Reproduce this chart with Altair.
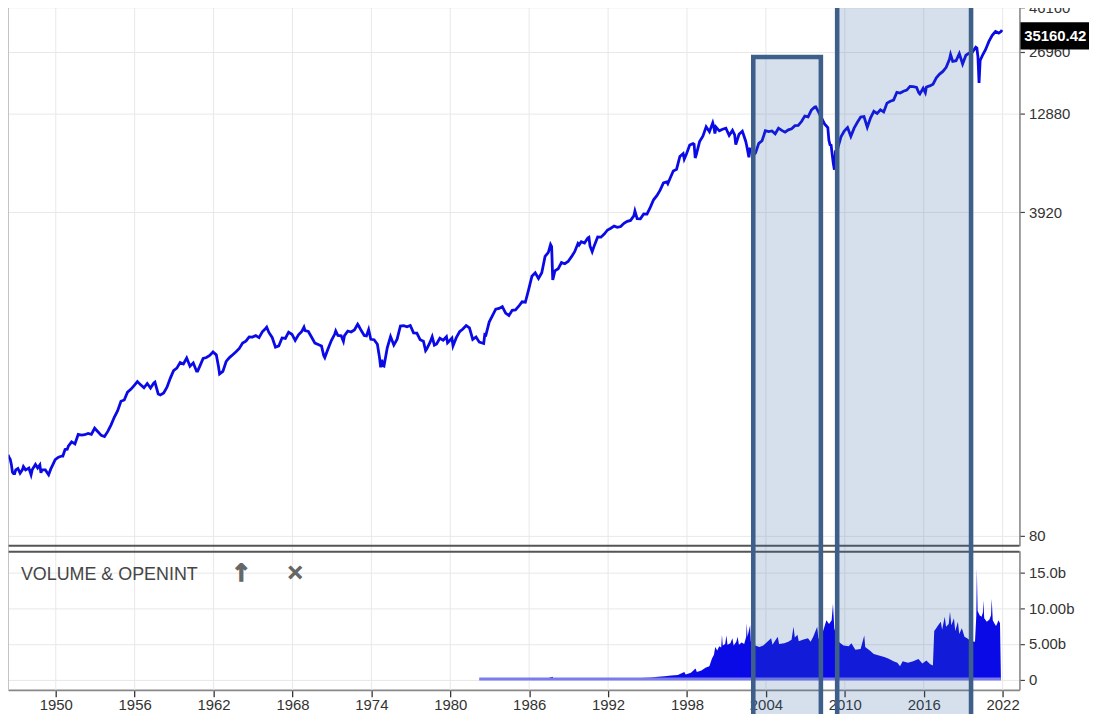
import altair as alt
import pandas as pd

# ---------------- data ----------------
price_dates = [
    "1946-05", "1946-06", "1946-07", "1946-08", "1946-09", "1946-10", "1946-11", "1946-12",
    "1947-02", "1947-04", "1947-06", "1947-07", "1947-09", "1947-12",
    "1948-02", "1948-03", "1948-06", "1948-08", "1948-10", "1948-11", "1948-12",
    "1949-03", "1949-06", "1949-08", "1949-10", "1949-12",
    "1950-03", "1950-06", "1950-07", "1950-09", "1950-11", "1950-12",
    "1951-03", "1951-06", "1951-09", "1951-12",
    "1952-03", "1952-06", "1952-09", "1952-12",
    "1953-03", "1953-06", "1953-09", "1953-12",
    "1954-03", "1954-06", "1954-09", "1954-12",
    "1955-03", "1955-06", "1955-09", "1955-12",
    "1956-03", "1956-06", "1956-09", "1956-12",
    "1957-03", "1957-06", "1957-07", "1957-10", "1957-12",
    "1958-03", "1958-06", "1958-09", "1958-12",
    "1959-03", "1959-06", "1959-09", "1959-12",
    "1960-03", "1960-06", "1960-09", "1960-10", "1960-12",
    "1961-03", "1961-06", "1961-09", "1961-12",
    "1962-03", "1962-05", "1962-06", "1962-09", "1962-12",
    "1963-03", "1963-06", "1963-09", "1963-12",
    "1964-03", "1964-06", "1964-09", "1964-12",
    "1965-03", "1965-06", "1965-09", "1965-12",
    "1966-01", "1966-03", "1966-06", "1966-09", "1966-12",
    "1967-03", "1967-06", "1967-09", "1967-12",
    "1968-03", "1968-06", "1968-09", "1968-11", "1968-12",
    "1969-03", "1969-06", "1969-09", "1969-12",
    "1970-03", "1970-05", "1970-06", "1970-09", "1970-12",
    "1971-03", "1971-04", "1971-06", "1971-09", "1971-11", "1971-12",
    "1972-03", "1972-06", "1972-09", "1972-12",
    "1973-01", "1973-03", "1973-06", "1973-08", "1973-10", "1973-12",
    "1974-03", "1974-06", "1974-08", "1974-09", "1974-10", "1974-11", "1974-12",
    "1975-03", "1975-06", "1975-09", "1975-12",
    "1976-03", "1976-06", "1976-09", "1976-12",
    "1977-03", "1977-06", "1977-09", "1977-12",
    "1978-02", "1978-03", "1978-06", "1978-08", "1978-10", "1978-12",
    "1979-03", "1979-06", "1979-09", "1979-10", "1979-12",
    "1980-02", "1980-03", "1980-06", "1980-09", "1980-12",
    "1981-03", "1981-06", "1981-09", "1981-12",
    "1982-03", "1982-07", "1982-08", "1982-09", "1982-12",
    "1983-03", "1983-06", "1983-09", "1983-12",
    "1984-03", "1984-06", "1984-09", "1984-12",
    "1985-03", "1985-06", "1985-09", "1985-12",
    "1986-03", "1986-06", "1986-09", "1986-12",
    "1987-03", "1987-06", "1987-08", "1987-09", "1987-10", "1987-11", "1987-12",
    "1988-03", "1988-06", "1988-09", "1988-12",
    "1989-03", "1989-06", "1989-09", "1989-10", "1989-12",
    "1990-03", "1990-06", "1990-07", "1990-08", "1990-10", "1990-12",
    "1991-03", "1991-06", "1991-09", "1991-12",
    "1992-03", "1992-06", "1992-09", "1992-12",
    "1993-03", "1993-06", "1993-09", "1993-12",
    "1994-01", "1994-03", "1994-06", "1994-09", "1994-12",
    "1995-03", "1995-06", "1995-09", "1995-12",
    "1996-03", "1996-06", "1996-07", "1996-09", "1996-12",
    "1997-03", "1997-06", "1997-09", "1997-10", "1997-12",
    "1998-03", "1998-06", "1998-07", "1998-08", "1998-09", "1998-12",
    "1999-03", "1999-06", "1999-09", "1999-12",
    "2000-01", "2000-02", "2000-03", "2000-06", "2000-09", "2000-12",
    "2001-03", "2001-06", "2001-08", "2001-09", "2001-12",
    "2002-03", "2002-06", "2002-07", "2002-09", "2002-10", "2002-12",
    "2003-02", "2003-03", "2003-06", "2003-09", "2003-12",
    "2004-03", "2004-06", "2004-09", "2004-12",
    "2005-03", "2005-06", "2005-09", "2005-12",
    "2006-03", "2006-06", "2006-09", "2006-12",
    "2007-03", "2007-06", "2007-09", "2007-10", "2007-12",
    "2008-03", "2008-06", "2008-09", "2008-10", "2008-11", "2008-12",
    "2009-02", "2009-03", "2009-04", "2009-06", "2009-09", "2009-12",
    "2010-03", "2010-06", "2010-09", "2010-12",
    "2011-03", "2011-06", "2011-09", "2011-12",
    "2012-03", "2012-06", "2012-09", "2012-12",
    "2013-03", "2013-06", "2013-09", "2013-12",
    "2014-03", "2014-06", "2014-09", "2014-12",
    "2015-03", "2015-06", "2015-08", "2015-09", "2015-12",
    "2016-02", "2016-03", "2016-06", "2016-09", "2016-12",
    "2017-03", "2017-06", "2017-09", "2017-12",
    "2018-01", "2018-03", "2018-06", "2018-09", "2018-12",
    "2019-03", "2019-06", "2019-09", "2019-12",
    "2020-01", "2020-02", "2020-03", "2020-04", "2020-06", "2020-09", "2020-12",
    "2021-03", "2021-06", "2021-09", "2021-11", "2021-12",
]
price_values = [
    212, 205, 201, 189, 172, 169, 169, 177,
    180, 170, 177, 184, 177, 181,
    167, 177, 189, 181, 188, 171, 177,
    177, 167, 179, 189, 200,
    206, 209, 209, 226, 227, 235,
    248, 242, 271, 269,
    270, 274, 271, 292,
    280, 268, 264, 281,
    304, 334, 361, 404,
    410, 451, 466, 488,
    512, 492, 475, 500,
    474, 503, 508, 441, 436,
    446, 478, 532, 584,
    602, 644, 632, 679,
    616, 641, 580, 580, 616,
    676, 684, 701, 731,
    706, 613, 561, 579, 652,
    683, 707, 733, 763,
    813, 832, 875, 874,
    889, 868, 931, 969,
    984, 924, 870, 774, 786,
    865, 860, 927, 905,
    840, 898, 936, 985, 944,
    935, 873, 813, 800,
    785, 700, 683, 760, 839,
    904, 941, 891, 887, 831, 890,
    940, 929, 953, 1020,
    999, 951, 891, 887, 957, 851,
    847, 802, 679, 608, 666, 619, 616,
    768, 879, 794, 852,
    999, 1003, 990, 1005,
    919, 916, 847, 831,
    743, 757, 819, 877, 793, 805,
    862, 842, 878, 816, 839,
    863, 786, 868, 932, 964,
    1004, 977, 850, 875,
    822, 809, 901, 896, 1047,
    1130, 1222, 1233, 1259,
    1165, 1132, 1207, 1212,
    1267, 1336, 1329, 1547,
    1819, 1893, 1768, 1896,
    2305, 2419, 2663, 2597, 1739, 1834, 1939,
    1989, 2142, 2113, 2169,
    2293, 2440, 2693, 2645, 2753,
    2707, 2881, 2905, 2614, 2442, 2634,
    2914, 2907, 3017, 3169,
    3236, 3319, 3272, 3301,
    3435, 3516, 3555, 3754,
    3978, 3636, 3625, 3843, 3834,
    4158, 4556, 4789, 5117,
    5588, 5655, 5529, 5882, 6448,
    6584, 7673, 7945, 7442, 7908,
    8800, 8952, 8883, 7539, 7843, 9181,
    9786, 10971, 10337, 11497,
    10941, 10128, 10922, 10448, 10651, 10787,
    9879, 10502, 9950, 8848, 10022,
    10404, 9243, 8736, 7592, 8397, 8342,
    7891, 7992, 8985, 9275, 10454,
    10358, 10435, 10080, 10783,
    10504, 10275, 10569, 10718,
    11109, 11150, 11679, 12463,
    12354, 13409, 13896, 13930, 13265,
    12263, 11350, 10851, 9325, 8829, 8776,
    7063, 6547, 8168, 8447, 9712, 10428,
    10857, 9774, 10788, 11578,
    12320, 12414, 10913, 12218,
    13212, 12880, 13437, 13104,
    14579, 14910, 15130, 16577,
    16458, 16827, 17043, 17823,
    17776, 17620, 16528, 16285, 17425,
    16517, 17685, 17930, 18308, 19763,
    20663, 21350, 22405, 24719,
    26149, 24103, 24271, 26458, 23327,
    25929, 26600, 26917, 28538,
    28256, 25409, 18592, 24346, 25813, 27782, 30606,
    32982, 34503, 33844, 34484, 35160.42,
]

# volume in billions, positions in decimal years
vol_years = [
    1982.20, 1982.22, 1983.0, 1984.0, 1985.0, 1986.0, 1986.6, 1987.3, 1987.78, 1987.85,
    1988.5, 1989.5, 1990.5, 1991.5, 1992.5, 1993.5, 1994.5, 1995.3, 1995.8, 1996.3,
    1996.8, 1997.3, 1997.8, 1997.9, 1998.3, 1998.65, 1998.75, 1999.1, 1999.4, 1999.7,
    1999.9, 2000.05, 2000.15, 2000.3, 2000.45, 2000.6, 2000.66, 2000.72, 2000.9, 2001.0,
    2001.08, 2001.3, 2001.45, 2001.55, 2001.75, 2001.85, 2001.95, 2002.15, 2002.35, 2002.5,
    2002.54, 2002.6, 2002.8, 2002.85, 2003.0, 2003.2, 2003.5, 2003.8, 2004.05, 2004.4,
    2004.5, 2004.9, 2005.0, 2005.4, 2005.7, 2005.95, 2006.1, 2006.2, 2006.4, 2006.5,
    2006.8, 2007.2, 2007.4, 2007.6, 2007.9, 2008.0, 2008.3, 2008.6, 2008.8, 2009.0,
    2009.1, 2009.2, 2009.45, 2009.6, 2009.9, 2010.3, 2010.5, 2010.8, 2011.2, 2011.48,
    2011.55, 2011.9, 2012.2, 2012.6, 2013.0, 2013.3, 2013.7, 2014.0, 2014.2, 2014.4,
    2014.8, 2015.2, 2015.6, 2015.9, 2016.2, 2016.5, 2016.7, 2016.8, 2016.95, 2017.1,
    2017.3, 2017.4, 2017.6, 2017.7, 2017.9, 2018.0, 2018.1, 2018.3, 2018.4, 2018.6,
    2018.7, 2018.9, 2019.1, 2019.3, 2019.6, 2019.9, 2020.0, 2020.04, 2020.1, 2020.25,
    2020.4, 2020.5, 2020.54, 2020.6, 2020.8, 2021.0, 2021.12, 2021.17, 2021.25, 2021.4,
    2021.5, 2021.6, 2021.68, 2021.8, 2021.86, 2021.87,
]
vol_values = [
    0.0, 0.04, 0.06, 0.06, 0.08, 0.10, 0.13, 0.16, 0.45, 0.18,
    0.13, 0.14, 0.15, 0.17, 0.19, 0.23, 0.27, 0.33, 0.45, 0.5,
    0.6, 0.7, 1.1, 0.75, 1.0, 1.6, 1.1, 1.3, 1.7, 1.9,
    3.0, 3.5, 4.6, 4.1, 4.7, 4.5, 6.3, 4.8, 5.0, 6.2,
    4.9, 5.1, 5.8, 4.8, 5.3, 6.0, 4.9, 5.2, 5.0, 6.0,
    7.9, 6.0, 7.6, 5.4, 5.0, 4.8, 4.6, 4.8, 5.2, 5.8,
    4.9, 6.0, 5.0, 5.1, 5.3, 5.6, 7.4, 5.9, 6.3, 5.4,
    5.6, 5.8, 5.3, 6.0, 7.4, 5.7, 6.5, 8.3, 7.8, 8.3,
    10.6, 7.2, 5.6, 5.2, 4.8, 4.7, 5.1, 4.2, 4.3, 6.2,
    4.6, 4.1, 3.6, 3.4, 3.2, 3.0, 2.6, 2.4, 1.9, 2.6,
    2.4, 2.6, 2.9, 2.3, 2.7, 2.2, 2.0, 6.8, 7.2, 7.6,
    8.1, 7.0, 8.8, 7.4, 7.8, 9.5, 7.6, 8.6, 6.8, 8.1,
    6.4, 7.2, 6.0, 5.8, 5.4, 5.3, 9.0, 15.5, 9.6, 9.0,
    8.8, 9.4, 11.1, 8.6, 8.1, 8.4, 9.0, 11.3, 8.3, 7.8,
    7.5, 7.9, 8.3, 7.9, 1.5, 0.0,
]

x_tick_years = [1950, 1956, 1962, 1968, 1974, 1980, 1986, 1992, 1998, 2004, 2010, 2016, 2022]
price_ticks = [80, 3920, 12880, 26960, 46160]
vol_ticks = [0, 5, 10, 15]
vol_tick_labels = ["0", "5.00b", "10.00b", "15.0b"]
last_price = 35160.42

# highlight boxes (years of their edges)
box_start = [2003.04, 2009.42]
box_end = [2008.18, 2019.60]
box_top_px = [47, -12]

header_label = ["VOLUME & OPENINT"]
header_icons = ["↑", "✕"]

# ---------------- layout ----------------
W, H = 1018, 684
UP_RANGE = [539, -3]
VOL_RANGE = [684, 544]
FONT = "Liberation Sans, Arial, sans-serif"
BLUE = "#0a0ae6"
GRID = "#e8e8e8"

price_df = pd.DataFrame({
    "t": [int(d[:4]) + (int(d[5:7]) - 0.5) / 12 for d in price_dates],
    "v": price_values,
})
vol_df = pd.DataFrame({"t": vol_years, "v": vol_values})
vol_base_df = pd.DataFrame({"t": [vol_years[0]], "t2": [vol_years[-1]], "v": [0.0]})
box_df = pd.DataFrame({"t": box_start, "t2": box_end, "top": box_top_px, "bottom": [H + 40] * 2})
last_df = pd.DataFrame({"v": [last_price], "label": [f"{last_price:.2f}"]})
one_df = pd.DataFrame({"label": header_label})
icon_df = pd.DataFrame({"label": header_icons, "px": [235, 289], "fs": [24, 21]})
xgrid_df = pd.DataFrame({"t": x_tick_years})

x_enc = alt.X(
    "t:Q",
    title=None,
    scale=alt.Scale(domain=[1946.37, 2023.28], nice=False, zero=False),
    axis=alt.Axis(
        values=x_tick_years, format="d", title=None, orient="bottom",
        grid=False,
        tickSize=7, tickColor="#333", tickWidth=1.3,
        domainColor="#888", domainWidth=1.6,
        labelFont=FONT, labelFontSize=15, labelColor="#333", labelPadding=1,
        labelFlush=False, labelOverlap=False,
    ),
)

xgrid = alt.Chart(xgrid_df).mark_rule(color=GRID, strokeWidth=1).encode(
    x=x_enc, y=alt.value(-10), y2=alt.value(H))

price_line = alt.Chart(price_df).mark_line(color=BLUE, strokeWidth=2.8).encode(
    x=x_enc,
    y=alt.Y(
        "v:Q",
        title=None,
        scale=alt.Scale(type="log", domain=[71, 46160], range=UP_RANGE, nice=False),
        axis=alt.Axis(
            orient="right", values=price_ticks, format="d", title=None,
            grid=True, gridColor=GRID, gridWidth=1,
            tickSize=5, tickColor="#444", tickWidth=1.2,
            domainColor="#888", domainWidth=1.6,
            labelFont=FONT, labelFontSize=15, labelColor="#333", labelPadding=4,
            labelFlush=False, labelOverlap=False,
        ),
    ),
)

label_box = alt.Chart(last_df).mark_point(
    shape="M-1,-0.39L1,-0.39L1,0.39L-1,0.39Z", size=4900, filled=True,
    color="black", opacity=1, strokeWidth=0, yOffset=6,
).encode(x=alt.value(1054), y=alt.Y("v:Q"))

label_text = alt.Chart(last_df).mark_text(
    color="white", font=FONT, fontSize=15, fontWeight="bold",
    align="center", baseline="middle", yOffset=6,
).encode(x=alt.value(1054), y=alt.Y("v:Q"), text="label:N")

price_group = alt.layer(price_line, label_box, label_text)

vol_labels_expr = " : ".join(
    f"datum.value == {v} ? '{lab}'" for v, lab in zip(vol_ticks, vol_tick_labels)
) + " : ''"

vol_y = alt.Y(
    "v:Q",
    title=None,
    scale=alt.Scale(domain=[-1.383, 17.98], range=VOL_RANGE, nice=False, zero=False),
    axis=alt.Axis(
        orient="right", values=vol_ticks, labelExpr=vol_labels_expr, title=None,
        grid=True, gridColor=GRID, gridWidth=1,
        tickSize=5, tickColor="#444", tickWidth=1.2,
        domainColor="#888", domainWidth=1.6,
        labelFont=FONT, labelFontSize=15, labelColor="#333", labelPadding=4,
        labelFlush=False, labelOverlap=False,
    ),
)

vol_area = alt.Chart(vol_df).mark_area(color=BLUE, opacity=1).encode(
    x=x_enc, y=vol_y, y2=alt.datum(0),
)
vol_base = alt.Chart(vol_base_df).mark_rule(color="#7b7bf0", strokeWidth=3, yOffset=-1).encode(
    x=x_enc, x2="t2:Q", y=alt.Y("v:Q"),
)
vol_group = alt.layer(vol_area, vol_base)

sep1 = alt.Chart(one_df).mark_rule(color="#555", strokeWidth=2).encode(
    x=alt.value(0), x2=alt.value(W), y=alt.value(539))
sep2 = alt.Chart(one_df).mark_rule(color="#555", strokeWidth=2).encode(
    x=alt.value(0), x2=alt.value(W), y=alt.value(545))
left_border = alt.Chart(one_df).mark_rule(color="#b0b0b0", strokeWidth=1.5).encode(
    x=alt.value(0), y=alt.value(-10), y2=alt.value(H))

header = alt.Chart(one_df).mark_text(
    align="left", baseline="middle", font=FONT, fontSize=18, color="#454545",
).encode(x=alt.value(13), y=alt.value(568), text="label:N")

icons = alt.Chart(icon_df).mark_text(
    align="center", baseline="middle", font="DejaVu Sans",
    fontWeight="bold", color="#666", stroke="#666", strokeWidth=1.3,
).encode(
    x=alt.X("px:Q", scale=None, axis=None), y=alt.value(567), text="label:N",
    size=alt.Size("fs:Q", scale=None, legend=None),
)

boxes = alt.Chart(box_df).mark_rect(
    fill="#3264a0", fillOpacity=0.2, stroke="#3d5f8a", strokeWidth=4.6,
).encode(
    x=x_enc, x2="t2:Q",
    y=alt.Y("top:Q", scale=None, axis=None), y2="bottom:Q",
)

chart = alt.layer(
    xgrid, price_group, vol_group, sep1, sep2, left_border, header, icons, boxes,
).resolve_scale(y="independent").resolve_axis(y="independent").properties(
    width=W, height=H,
    autosize=alt.AutoSizeParams(type="none"),
    padding={"left": 0, "top": 0, "right": 70, "bottom": 22},
    background="white",
).configure_view(stroke=None)

chart.save("out.html", embed_options={"renderer": "svg", "actions": False})
